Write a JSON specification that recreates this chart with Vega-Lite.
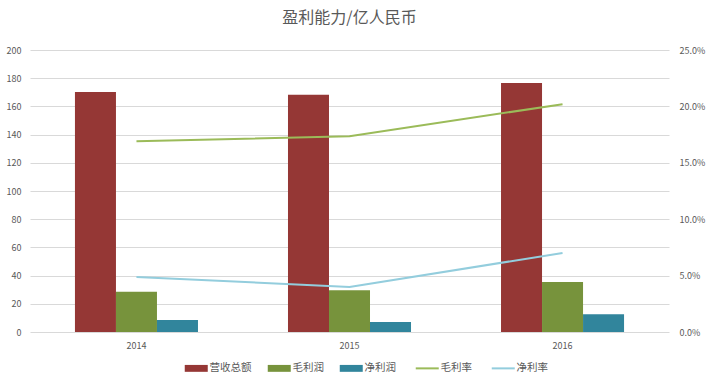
{
  "$schema": "https://vega.github.io/schema/vega-lite/v6.json",
  "width": 639,
  "height": 282,
  "autosize": {"type": "none"},
  "padding": {"left": 30, "top": 50, "right": 40, "bottom": 51},
  "background": "white",
  "title": {"text": "盈利能力/亿人民币", "fontSize": 16, "font": "Noto Sans CJK SC", "fontWeight": "normal", "color": "#595959", "anchor": "middle", "offset": 20},
  "config": {
    "view": {"stroke": null},
    "font": "Noto Sans CJK SC",
    "axis": {"domain": false, "ticks": false, "labelColor": "#595959", "labelFontSize": 9, "gridColor": "#D9D9D9", "gridWidth": 1, "title": null}
  },
  "datasets": {
    "bars": [
      {"year": "2014", "series": "营收总额", "value": 170.2},
      {"year": "2014", "series": "毛利润", "value": 28.6},
      {"year": "2014", "series": "净利润", "value": 8.5},
      {"year": "2015", "series": "营收总额", "value": 168.3},
      {"year": "2015", "series": "毛利润", "value": 29.6},
      {"year": "2015", "series": "净利润", "value": 7.1},
      {"year": "2016", "series": "营收总额", "value": 176.6},
      {"year": "2016", "series": "毛利润", "value": 35.5},
      {"year": "2016", "series": "净利润", "value": 12.6}
    ],
    "lines": [
      {"year": "2014", "series": "毛利率", "rate": 0.1690},
      {"year": "2015", "series": "毛利率", "rate": 0.1735},
      {"year": "2016", "series": "毛利率", "rate": 0.2020},
      {"year": "2014", "series": "净利率", "rate": 0.0488},
      {"year": "2015", "series": "净利率", "rate": 0.0400},
      {"year": "2016", "series": "净利率", "rate": 0.0700}
    ]
  },
  "layer": [
    {
      "data": {"name": "bars"},
      "mark": {"type": "bar"},
      "encoding": {
        "x": {"field": "year", "type": "nominal", "scale": {"paddingInner": 0.4225, "paddingOuter": 0.211}, "axis": {"labelAngle": 0, "labelPadding": 9, "grid": false}},
        "xOffset": {"field": "series", "type": "nominal", "sort": ["营收总额", "毛利润", "净利润"], "scale": {"paddingInner": 0, "paddingOuter": 0}},
        "y": {"field": "value", "type": "quantitative", "scale": {"domain": [0, 200]}, "axis": {"orient": "left", "values": [0, 20, 40, 60, 80, 100, 120, 140, 160, 180, 200], "labelPadding": 9}},
        "color": {
          "field": "series", "type": "nominal",
          "scale": {"domain": ["营收总额", "毛利润", "净利润", "毛利率", "净利率"], "range": ["#953735", "#77933C", "#31859C", "#9BBB59", "#93CDDD"]},
          "legend": {
            "orient": "none", "legendX": 161, "legendY": 313, "direction": "horizontal", "title": null,
            "labelFontSize": 10.5, "labelColor": "#595959", "labelOffset": 8, "columnPadding": 15,
            "symbolSize": 529,
            "encode": {
              "symbols": {
                "update": {
                  "shape": {"signal": "indexof(['毛利率','净利率'], datum.value) >= 0 ? 'stroke' : 'M-1,-0.3H1V0.3H-1Z'"},
                  "fill": {"signal": "indexof(['毛利率','净利率'], datum.value) >= 0 ? 'transparent' : scale('color', datum.value)"},
                  "stroke": {"signal": "scale('color', datum.value)"},
                  "strokeWidth": {"signal": "indexof(['毛利率','净利率'], datum.value) >= 0 ? 2 : 0"},
                  "opacity": {"value": 1}
                }
              }
            }
          }
        }
      }
    },
    {
      "data": {"name": "lines"},
      "mark": {"type": "line", "strokeWidth": 2},
      "encoding": {
        "x": {"field": "year", "type": "nominal"},
        "y": {"field": "rate", "type": "quantitative", "scale": {"domain": [0, 0.25]}, "axis": {"orient": "right", "format": ".1%", "values": [0, 0.05, 0.1, 0.15, 0.2, 0.25], "grid": false, "labelPadding": 10}},
        "color": {"field": "series", "type": "nominal"}
      }
    }
  ],
  "resolve": {"scale": {"y": "independent"}}
}
